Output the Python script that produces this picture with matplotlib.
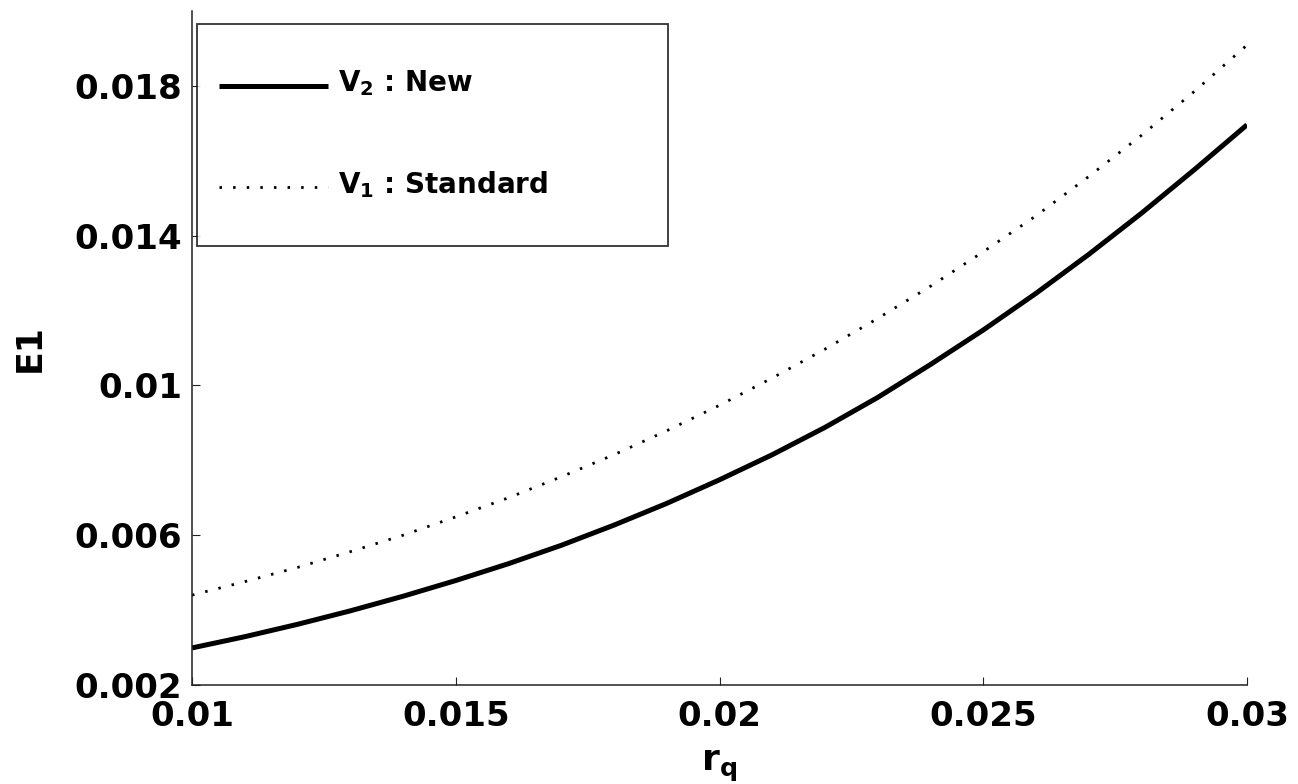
import matplotlib
matplotlib.use("Agg")
import matplotlib.pyplot as plt

# ---- data ----
r_q = [0.010, 0.011, 0.012, 0.013, 0.014, 0.015, 0.016, 0.017, 0.018, 0.019, 0.020,
       0.021, 0.022, 0.023, 0.024, 0.025, 0.026, 0.027, 0.028, 0.029, 0.030]
e1_new = [0.00299, 0.00329, 0.00362, 0.00398, 0.00437, 0.00479, 0.00524, 0.00573,
          0.00627, 0.00685, 0.00748, 0.00815, 0.00888, 0.00968, 0.01056, 0.01148,
          0.01246, 0.01350, 0.01460, 0.01576, 0.01696]
e1_standard = [0.00440, 0.00476, 0.00514, 0.00556, 0.00600, 0.00649, 0.00700, 0.00756,
               0.00815, 0.00879, 0.00947, 0.01020, 0.01097, 0.01179, 0.01265, 0.01357,
               0.01453, 0.01558, 0.01668, 0.01785, 0.01909]

x_ticks = [0.01, 0.015, 0.02, 0.025, 0.03]
x_tick_labels = ["0.01", "0.015", "0.02", "0.025", "0.03"]
y_ticks = [0.002, 0.006, 0.01, 0.014, 0.018]
y_tick_labels = ["0.002", "0.006", "0.01", "0.014", "0.018"]

label_new = r"$\mathbf{V_2}$ : New"
label_standard = r"$\mathbf{V_1}$ : Standard"

plt.rcParams["font.family"] = ["DejaVu Sans"]
plt.rcParams["font.weight"] = "bold"
plt.rcParams["mathtext.fontset"] = "dejavusans"
plt.rcParams["mathtext.default"] = "bf"

fig = plt.figure(figsize=(12.98, 7.84), dpi=100)
ax = fig.add_axes([192 / 1298, 1 - 685 / 784, (1247 - 192) / 1298, (685 - 11) / 784])

ax.plot(r_q, e1_new, color="black", lw=3.6, solid_capstyle="butt", label=label_new)
ax.plot(r_q, e1_standard, color="black", lw=2.0, linestyle=(0, (0.9, 4.0)),
        dash_capstyle="butt", label=label_standard)

ax.set_xlim(0.01, 0.03)
ax.set_ylim(0.002, 0.02)
ax.set_xticks(x_ticks)
ax.set_xticklabels(x_tick_labels)
ax.set_yticks(y_ticks)
ax.set_yticklabels(y_tick_labels)

for s in ["top", "right"]:
    ax.spines[s].set_visible(False)
for s in ["left", "bottom"]:
    ax.spines[s].set_linewidth(1.1)
    ax.spines[s].set_color("#222222")

ax.tick_params(axis="both", direction="in", length=6, width=0.8, color="#222222",
               labelsize=24.5)
ax.tick_params(axis="y", pad=7)
ax.tick_params(axis="x", pad=11)
for lab in ax.get_xticklabels() + ax.get_yticklabels():
    lab.set_fontweight("bold")

ax.set_xlabel(r"$\mathbf{r_q}$", fontsize=26, labelpad=11)
ax.set_ylabel("E1", fontsize=25, fontweight="bold", labelpad=20)

leg = ax.legend(loc="upper left",
                bbox_to_anchor=(5 / 1055, (685 - 249) / 674, (668 - 197) / 1055, (249 - 24) / 674),
                mode="expand", borderaxespad=0, fontsize=20, frameon=True, fancybox=False,
                edgecolor="black", handlelength=3.9, handletextpad=0.36, borderpad=0.8,
                handleheight=3.8, labelspacing=0.95)
leg.get_frame().set_linewidth(1.3)
for t in leg.get_texts():
    t.set_fontweight("bold")
# lower the legend sample lines slightly relative to their text (points)
for ln in leg.get_lines():
    ln.set_ydata([v - 12 for v in ln.get_ydata()])

fig.savefig("out.png", dpi=100, facecolor="white")
